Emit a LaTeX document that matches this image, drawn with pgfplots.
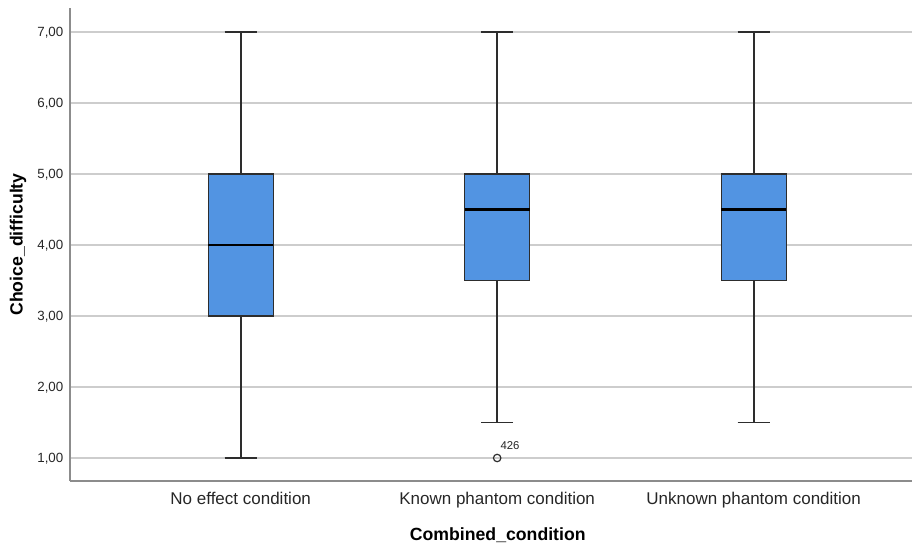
\documentclass[border=0pt]{standalone}
\usepackage{fontspec}
\setmainfont{Liberation Sans}
\usepackage{pgfplots}
\pgfplotsset{compat=1.18}
\usepgfplotslibrary{statistics}
\definecolor{boxblue}{RGB}{82,148,226}
\definecolor{axgray}{RGB}{140,140,140}
\definecolor{gridgray}{RGB}{205,205,205}
\definecolor{linegray}{RGB}{45,45,45}
\begin{document}
\begin{tikzpicture}
\useasboundingbox (-52.5pt,-50.25pt) rectangle (631.5pt,360.75pt);
\begin{axis}[
  at={(0,0)}, anchor=south west,
  scale only axis,
  width=631.5pt, height=354.75pt,
  xmin=0.3345, xmax=3.6175,
  ymin=0.676, ymax=7.338,
  axis x line*=bottom, axis y line*=left,
  axis line style={axgray, line width=1.1pt, -},
  major tick length=0pt,
  xtick={1,2,3},
  xticklabels={No effect condition, Known phantom condition, Unknown phantom condition},
  ytick={1,2,3,4,5,6,7},
  yticklabels={{1,00},{2,00},{3,00},{4,00},{5,00},{6,00},{7,00}},
  xticklabel style={font=\fontsize{12.75}{14}\selectfont, text=black!85, yshift=-4.5pt},
  yticklabel style={font=\fontsize{10}{12}\selectfont, text=black!85, xshift=-1.5pt, yshift=-0.6pt},
  ymajorgrids,
  grid style={gridgray, line width=1.1pt},
  xlabel={Combined\_condition},
  ylabel={Choice\_difficulty},
  xlabel style={font=\bfseries\fontsize{13.25}{15}\selectfont, at={(rel axis cs:0.508,0)}, anchor=center, yshift=-40.5pt},
  ylabel style={font=\bfseries\fontsize{13.25}{15}\selectfont, at={(rel axis cs:0,0.5)}, anchor=center, yshift=39pt},
  clip=false,
  boxplot/draw direction=y,
  boxplot/box extend=0.253,
  boxplot/whisker extend=0.125,
  boxplot/every box/.style={fill=boxblue, draw=linegray, line width=0.8pt},
  boxplot/every whisker/.style={draw=linegray, line width=1.3pt},
  boxplot/every median/.style={draw=black, line width=2.2pt},
]
\addplot+[boxplot prepared={draw position=1, lower whisker=1, lower quartile=3, median=4, upper quartile=5, upper whisker=7}, mark=none, draw=linegray, fill=boxblue, solid, line width=1.3pt] coordinates {};
\addplot+[boxplot prepared={draw position=2, lower whisker=1.5, lower quartile=3.5, median=4.5, upper quartile=5, upper whisker=7}, mark=none, draw=linegray, fill=boxblue, solid, line width=1.3pt] coordinates {};
\addplot+[boxplot prepared={draw position=3, lower whisker=1.5, lower quartile=3.5, median=4.5, upper quartile=5, upper whisker=7}, mark=none, draw=linegray, fill=boxblue, solid, line width=1.3pt] coordinates {};
\addplot[only marks, mark=o, mark size=2.8pt, mark options={draw=linegray, fill=white, line width=0.9pt}] coordinates {(2,1)};
\node[font=\fontsize{8.5}{10}\selectfont, anchor=south west, inner sep=0pt, text=black!85] at (axis cs:2.012,1.12) {426};
\end{axis}
\end{tikzpicture}
\end{document}
